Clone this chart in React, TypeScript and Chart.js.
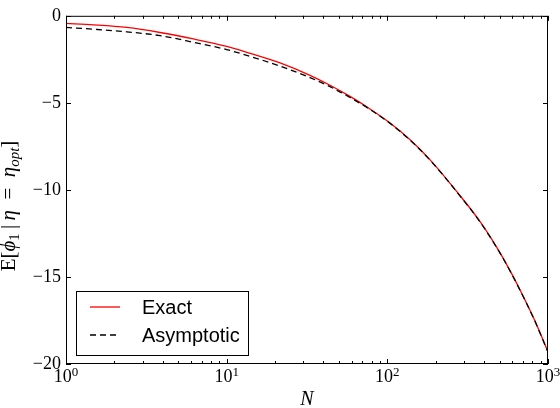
import { useEffect, useRef } from 'react'
import { Chart, registerables } from 'chart.js'

// Register all Chart.js components
Chart.register(...registerables)

// values
const nValues = [1, 1.48, 2.39, 3.85, 6.2, 10, 14, 21.5, 33, 44, 58.6, 78, 104, 138, 184, 283, 377, 502, 594, 702, 830, 981, 1000]
const exact = [-0.44, -0.52, -0.67, -0.96, -1.33, -1.76, -2.16, -2.71, -3.42, -3.99, -4.63, -5.35, -6.16, -7.11, -8.26, -10.32, -11.81, -13.6, -14.81, -16.12, -17.53, -19.12, -19.3]
const asymptotic = [-0.67, -0.77, -0.92, -1.14, -1.52, -1.94, -2.33, -2.89, -3.55, -4.07, -4.69, -5.38, -6.18, -7.13, -8.28, -10.34, -11.83, -13.62, -14.83, -16.14, -17.55, -19.14, -19.32]

const seriesLabels = ['Exact', 'Asymptotic']
const yTickValues = [0, -5, -10, -15, -20]
const xDecades = [1, 10, 100, 1000]

const serif = 'Liberation Serif'
const sans = 'Liberation Sans'

type Part = { t: string; italic?: boolean; sub?: boolean }

const yTitle: Part[] = [
  { t: 'E[' },
  { t: 'ϕ', italic: true },
  { t: '1', sub: true },
  { t: '\u2009|\u2009' },
  { t: 'η', italic: true },
  { t: '\u2002=\u2002' },
  { t: 'η', italic: true },
  { t: 'opt', italic: true, sub: true },
  { t: ']' },
]

function partFont(p: Part) {
  return `${p.italic ? 'italic ' : ''}${p.sub ? 15 : 21}px "${serif}"`
}

function drawParts(ctx: CanvasRenderingContext2D, parts: Part[], cx: number, baseline: number) {
  let total = 0
  parts.forEach((p) => {
    ctx.font = partFont(p)
    total += ctx.measureText(p.t).width
  })
  let x = cx - total / 2
  ctx.textAlign = 'left'
  ctx.textBaseline = 'alphabetic'
  parts.forEach((p) => {
    ctx.font = partFont(p)
    ctx.fillText(p.t, x, baseline + (p.sub ? 4 : 0))
    x += ctx.measureText(p.t).width
  })
}

const framePlugin = {
  id: 'frame',
  afterDraw(chart: any) {
    const { ctx, chartArea } = chart
    const { left, right, top, bottom } = chartArea
    const xs = chart.scales.x
    const ys = chart.scales.y
    ctx.save()
    ctx.strokeStyle = '#000'
    ctx.lineWidth = 1
    ctx.strokeRect(left + 0.5, top + 0.5, right - left - 1, bottom - top - 1)

    // ticks inside on all four sides
    ctx.beginPath()
    xs.ticks.forEach((t: any) => {
      const px = Math.round(xs.getPixelForValue(t.value)) + 0.5
      const major = xDecades.includes(t.value)
      const len = major ? 5 : 3
      ctx.moveTo(px, bottom)
      ctx.lineTo(px, bottom - len)
      ctx.moveTo(px, top)
      ctx.lineTo(px, top + len)
    })
    ys.ticks.forEach((t: any) => {
      const py = Math.round(ys.getPixelForValue(t.value)) + 0.5
      ctx.moveTo(left, py)
      ctx.lineTo(left + 5, py)
      ctx.moveTo(right, py)
      ctx.lineTo(right - 5, py)
    })
    ctx.stroke()

    // x tick labels 10^n
    ctx.fillStyle = '#000'
    xDecades.forEach((v) => {
      const px = xs.getPixelForValue(v)
      const exp = String(Math.round(Math.log10(v)))
      ctx.font = `18px "${serif}"`
      const w1 = ctx.measureText('10').width
      ctx.font = `13px "${serif}"`
      const w2 = ctx.measureText(exp).width
      const x0 = px - (w1 + w2) / 2
      ctx.textAlign = 'left'
      ctx.textBaseline = 'alphabetic'
      ctx.font = `18px "${serif}"`
      ctx.fillText('10', x0, bottom + 18)
      ctx.font = `13px "${serif}"`
      ctx.fillText(exp, x0 + w1, bottom + 12)
    })

    // axis titles
    ctx.font = `italic 20px "${serif}"`
    ctx.textAlign = 'center'
    ctx.textBaseline = 'alphabetic'
    ctx.fillText('N', (left + right) / 2, bottom + 41)

    ctx.save()
    ctx.translate(15, 206)
    ctx.rotate(-Math.PI / 2)
    drawParts(ctx, yTitle, 0, 0)
    ctx.restore()

    // legend box in lower left
    const bx = left + 10
    const by = bottom - 73
    const bw = 172
    const bh = 64
    ctx.fillStyle = '#fff'
    ctx.fillRect(bx + 0.5, by + 0.5, bw, bh)
    ctx.strokeStyle = '#000'
    ctx.strokeRect(bx + 0.5, by + 0.5, bw, bh)
    chart.data.datasets.forEach((ds: any, i: number) => {
      const ly = by + 16 + i * 28
      ctx.beginPath()
      ctx.strokeStyle = ds.borderColor
      ctx.lineWidth = ds.borderWidth
      ctx.setLineDash(ds.borderDash || [])
      ctx.moveTo(bx + 14, ly)
      ctx.lineTo(bx + 44, ly)
      ctx.stroke()
      ctx.setLineDash([])
      ctx.fillStyle = '#000'
      ctx.font = `20px "${sans}"`
      ctx.textAlign = 'left'
      ctx.textBaseline = 'middle'
      ctx.fillText(ds.label, bx + 66, ly + 1)
    })
    ctx.restore()
  },
}

export default function App() {
  const chartRef = useRef<HTMLCanvasElement | null>(null)
  const chartInstance = useRef<Chart | null>(null)

  useEffect(() => {
    if (!chartRef.current) return
    if (chartInstance.current) chartInstance.current.destroy()

    chartInstance.current = new Chart(chartRef.current, {
      type: 'line',
      data: {
        datasets: [
          {
            label: seriesLabels[0],
            data: nValues.map((n, i) => ({ x: n, y: exact[i] })),
            borderColor: '#ff0000',
            borderWidth: 1.3,
            pointRadius: 0,
            cubicInterpolationMode: 'monotone',
            order: 1,
          },
          {
            label: seriesLabels[1],
            data: nValues.map((n, i) => ({ x: n, y: asymptotic[i] })),
            borderColor: '#000000',
            borderWidth: 1.3,
            borderDash: [6, 4],
            pointRadius: 0,
            cubicInterpolationMode: 'monotone',
            order: 0,
          },
        ],
      },
      options: {
        responsive: false,
        animation: false,
        layout: { padding: { top: 8, right: 12, left: 0, bottom: 0 } },
        plugins: {
          legend: { display: false },
          tooltip: { enabled: false },
        },
        scales: {
          x: {
            type: 'logarithmic',
            min: 1,
            max: 1000,
            grid: { display: false, drawTicks: false },
            border: { display: false },
            ticks: { display: false },
            afterBuildTicks: (scale: any) => {
              const ticks: { value: number }[] = []
              xDecades.slice(0, -1).forEach((d) => {
                for (let k = 1; k < 10; k++) ticks.push({ value: k * d })
              })
              ticks.push({ value: xDecades[xDecades.length - 1] })
              scale.ticks = ticks
            },
            afterFit: (scale: any) => {
              scale.height = 44
            },
          },
          y: {
            type: 'linear',
            min: -20,
            max: 0,
            grid: { display: false, drawTicks: false },
            border: { display: false },
            afterBuildTicks: (scale: any) => {
              scale.ticks = yTickValues.map((v) => ({ value: v }))
            },
            ticks: {
              padding: 5,
              color: '#000',
              font: { family: serif, size: 18 },
              callback: (v: any) => (v < 0 ? '\u2212' + Math.abs(v) : String(v)),
            },
            afterFit: (scale: any) => {
              scale.width = 66
            },
          },
        },
      },
      plugins: [framePlugin],
    })

    return () => {
      if (chartInstance.current) {
        chartInstance.current.destroy()
        chartInstance.current = null
      }
    }
  }, [])

  return (
    <div style={{ position: 'absolute', left: 0, top: 0, width: 560, height: 408, background: '#fff' }}>
      <canvas ref={chartRef} width={560} height={408}></canvas>
    </div>
  )
}
